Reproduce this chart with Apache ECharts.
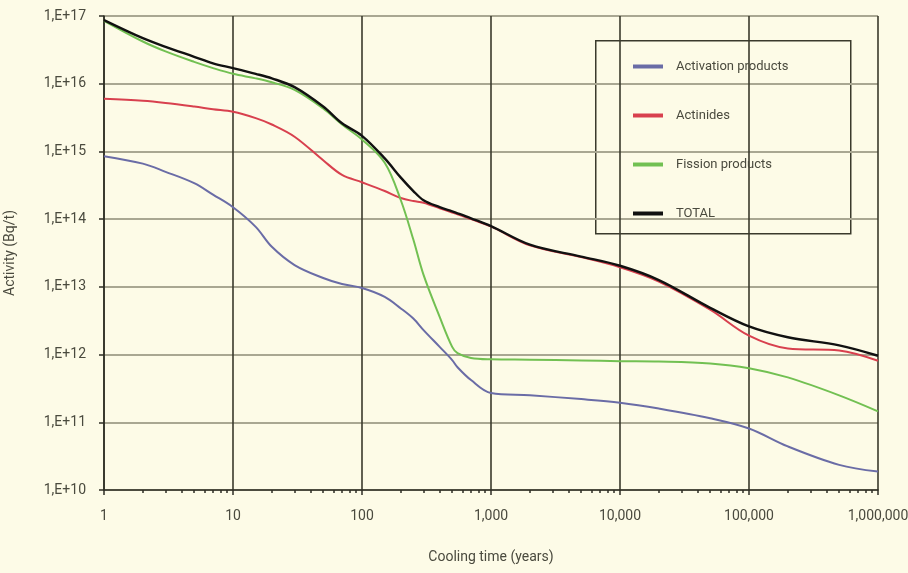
<!DOCTYPE html>
<html>
<head>
<meta charset="utf-8">
<script src="https://cdn.jsdelivr.net/npm/echarts@6/dist/echarts.min.js"></script>
<style>
html,body{margin:0;padding:0;background:#fdfbe7;}
#chart{width:908px;height:573px;}
</style>
</head>
<body>
<div id="chart"></div>
<script>
// Cooling time (years)
const times = [1, 2, 3, 5, 7, 10, 15, 20, 30, 50, 70, 100, 150, 200, 250, 300, 400, 500, 550, 700, 1000, 2000, 5000, 10000, 20000, 50000, 100000, 200000, 500000, 1000000];

// Activity (Bq/t)
const activation = [8.5e14, 6.6e14, 5.0e14, 3.4e14, 2.3e14, 1.5e14, 7.7e13, 3.9e13, 2.1e13, 1.35e13, 1.1e13, 9.6e12, 7.1e12, 4.8e12, 3.4e12, 2.3e12, 1.3e12, 8.3e11, 6.5e11, 4.2e11, 2.7e11, 2.5e11, 2.2e11, 1.95e11, 1.6e11, 1.15e11, 8.1e10, 4.4e10, 2.35e10, 1.87e10];
const actinides = [6.0e15, 5.6e15, 5.2e15, 4.6e15, 4.2e15, 3.85e15, 3.1e15, 2.5e15, 1.65e15, 7.4e14, 4.5e14, 3.5e14, 2.6e14, 2.05e14, 1.85e14, 1.75e14, 1.45e14, 1.25e14, 1.18e14, 1.0e14, 7.8e13, 4.1e13, 2.75e13, 1.95e13, 1.2e13, 4.6e12, 1.9e12, 1.23e12, 1.15e12, 8.1e11];
const fission = [8.5e16, 4.2e16, 3.0e16, 2.1e16, 1.7e16, 1.4e16, 1.2e16, 1.05e16, 8.1e15, 4.3e15, 2.5e15, 1.5e15, 6.8e14, 1.9e14, 5.0e13, 1.5e13, 3.6e12, 1.3e12, 1.05e12, 8.9e11, 8.5e11, 8.4e11, 8.2e11, 8.0e11, 7.9e11, 7.4e11, 6.3e11, 4.6e11, 2.5e11, 1.45e11];
const total = [8.7e16, 4.7e16, 3.5e16, 2.5e16, 2.0e16, 1.7e16, 1.4e16, 1.2e16, 8.9e15, 4.6e15, 2.6e15, 1.7e15, 7.9e14, 4.1e14, 2.6e14, 1.9e14, 1.5e14, 1.3e14, 1.22e14, 1.03e14, 7.9e13, 4.2e13, 2.8e13, 2.05e13, 1.26e13, 4.9e12, 2.6e12, 1.8e12, 1.37e12, 9.6e11];

const seriesNames = ['Activation products', 'Actinides', 'Fission products', 'TOTAL'];
const seriesColors = ['#6a6ca6', '#d8404e', '#72c052', '#111111'];

const FONT = 'Roboto, "Liberation Sans", sans-serif';
const textColor = '#4a4a3e';

function pairs(arr) { return times.map((t, i) => [t, arr[i]]); }

const chart = echarts.init(document.getElementById('chart'));
const dataSets = [activation, actinides, fission, total];

chart.setOption({
  backgroundColor: '#fdfbe7',
  animation: false,
  grid: { left: 104, right: 30, top: 16, bottom: 83, outerBoundsMode: 'none', containLabel: false },
  xAxis: {
    type: 'log', logBase: 10, min: 1, max: 1000000,
    name: 'Cooling time (years)', nameLocation: 'middle', nameGap: 60,
    nameTextStyle: { fontFamily: FONT, fontSize: 14, color: textColor },
    axisLine: { show: true, onZero: false, lineStyle: { color: '#2e2e24', width: 1.5 } },
    axisTick: { show: true, length: 5, lineStyle: { color: '#2e2e24', width: 1.5 } },
    minorTick: { show: true, splitNumber: 9, length: 3, lineStyle: { color: '#2e2e24', width: 1.5 } },
    axisLabel: { fontFamily: FONT, fontSize: 14, color: textColor, margin: 19,
      formatter: v => Math.round(v).toLocaleString('en-US') },
    splitLine: { show: true, lineStyle: { color: '#3a3a2c', width: 1.6 } }
  },
  yAxis: {
    type: 'log', logBase: 10, min: 1e10, max: 1e17,
    name: 'Activity (Bq/t)', nameLocation: 'middle', nameGap: 87, nameRotate: 90,
    nameTextStyle: { fontFamily: FONT, fontSize: 14, color: textColor },
    axisLine: { show: true, lineStyle: { color: '#2e2e24', width: 1.5 } },
    axisTick: { show: true, length: 5, lineStyle: { color: '#2e2e24', width: 1.5 } },
    axisLabel: { fontFamily: FONT, fontSize: 14, color: textColor, margin: 18,
      formatter: v => '1,E+' + Math.round(Math.log10(v)) },
    splitLine: { show: true, lineStyle: { color: '#a9a792', width: 2.2 } }
  },
  legend: {
    orient: 'vertical', left: 628, top: 55,
    icon: 'rect', itemWidth: 30, itemHeight: 4, itemGap: 36,
    textStyle: { fontFamily: FONT, fontSize: 13, color: textColor, padding: [0, 0, 0, 8] },
    data: seriesNames
  },
  graphic: [{
    type: 'rect', left: 595, top: 40, z: 0,
    shape: { width: 255, height: 193 },
    style: { fill: '#fdfbe7', stroke: '#3a3a2c', lineWidth: 1.5 }
  }],
  series: dataSets.map((d, i) => ({
    name: seriesNames[i], type: 'line', data: pairs(d), smooth: 0.35,
    symbol: 'none', color: seriesColors[i],
    lineStyle: { width: i === 3 ? 2.4 : 2, color: seriesColors[i] },
    z: 3 + i
  }))
});
</script>
</body>
</html>
